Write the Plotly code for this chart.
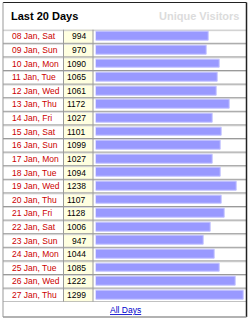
import plotly.graph_objects as go

dates = ["08 Jan, Sat", "09 Jan, Sun", "10 Jan, Mon", "11 Jan, Tue", "12 Jan, Wed",
         "13 Jan, Thu", "14 Jan, Fri", "15 Jan, Sat", "16 Jan, Sun", "17 Jan, Mon",
         "18 Jan, Tue", "19 Jan, Wed", "20 Jan, Thu", "21 Jan, Fri", "22 Jan, Sat",
         "23 Jan, Sun", "24 Jan, Mon", "25 Jan, Tue", "26 Jan, Wed", "27 Jan, Thu"]
visitors = [994, 970, 1090, 1065, 1061, 1172, 1027, 1101, 1099, 1027,
            1094, 1238, 1107, 1128, 1006, 947, 1044, 1085, 1222, 1299]
title_text = "Last 20 Days"
header_right = "Unique Visitors"
footer_link = "All Days"

W, H = 249, 320
px = lambda v: v / W
py = lambda v: 1 - v / H

row_top, row_bot = 29.7, 301.7
n = len(dates)
row_px = (row_bot - row_top) / n

fig = go.Figure()
fig.add_trace(go.Bar(
    y=dates, x=visitors, orientation="h", width=0.66,
    marker=dict(color="#9999ff", line=dict(color="#c4c4ff", width=1)),
    hoverinfo="x+y",
))

shapes = []
# number column background
shapes.append(dict(type="rect", xref="paper", yref="paper", x0=px(63.5), x1=px(93), y0=py(row_bot), y1=py(row_top),
                   fillcolor="#ffffe0", line=dict(width=0), layer="below"))
# row separators (two-tone)
for i in range(n + 1):
    yy = i - 0.5
    shapes.append(dict(type="line", xref="paper", yref="y", x0=px(3), x1=px(246), y0=yy + 1 / row_px, y1=yy + 1 / row_px,
                       line=dict(color="#dadada", width=1), layer="below"))
    shapes.append(dict(type="line", xref="paper", yref="y", x0=px(3), x1=px(246), y0=yy, y1=yy,
                       line=dict(color="#9a9a9a", width=1), layer="below"))
# vertical separators
for xv in (63.5, 93):
    shapes.append(dict(type="line", xref="paper", yref="paper", x0=px(xv), x1=px(xv), y0=py(row_bot), y1=py(row_top),
                       line=dict(color="#9a9a9a", width=1), layer="below"))
# outer border
shapes.append(dict(type="line", xref="paper", yref="paper", x0=px(3), x1=px(246.5), y0=py(2.5), y1=py(2.5),
                   line=dict(color="#222222", width=1)))
shapes.append(dict(type="line", xref="paper", yref="paper", x0=px(246.5), x1=px(246.5), y0=py(2.5), y1=py(317),
                   line=dict(color="#222222", width=1.5)))
shapes.append(dict(type="line", xref="paper", yref="paper", x0=px(3), x1=px(3), y0=py(2.5), y1=py(317),
                   line=dict(color="#999999", width=1)))
shapes.append(dict(type="line", xref="paper", yref="paper", x0=px(3), x1=px(246.5), y0=py(317), y1=py(317),
                   line=dict(color="#999999", width=1.5)))

annotations = []
annotations.append(dict(text="<b>" + title_text + "</b>", xref="paper", yref="paper", x=px(9), y=py(16),
                        xanchor="left", yanchor="middle", showarrow=False,
                        font=dict(family="Liberation Sans, Arial", size=11, color="#000000")))
annotations.append(dict(text="<b>" + header_right + "</b>", xref="paper", yref="paper", x=px(241), y=py(16),
                        xanchor="right", yanchor="middle", showarrow=False,
                        font=dict(family="Liberation Sans, Arial", size=11, color="#dcdcdc")))
for d, v in zip(dates, visitors):
    annotations.append(dict(text=d, xref="paper", yref="y", x=px(9.5), y=d, xanchor="left", yanchor="middle",
                            showarrow=False, font=dict(family="Liberation Sans, Arial", size=8.5, color="#cc0000")))
    annotations.append(dict(text=str(v), xref="paper", yref="y", x=px(88), y=d, xanchor="right", yanchor="middle",
                            showarrow=False, font=dict(family="Liberation Sans Narrow, Arial Narrow, Liberation Sans", size=8.5, color="#000000")))
annotations.append(dict(text="<u>" + footer_link + "</u>", xref="paper", yref="paper", x=px(125), y=py(310),
                        xanchor="center", yanchor="middle", showarrow=False,
                        font=dict(family="Liberation Sans, Arial", size=8.5, color="#0000cc")))

fig.update_layout(
    width=W, height=H, margin=dict(l=0, r=0, t=0, b=0),
    paper_bgcolor="white", plot_bgcolor="rgba(0,0,0,0)",
    showlegend=False, bargap=0,
    xaxis=dict(domain=[px(95.7), px(244)], range=[0, max(visitors)], visible=False, fixedrange=True),
    yaxis=dict(domain=[py(row_bot), py(row_top)], type="category", categoryorder="array", categoryarray=dates,
               range=[n - 0.5, -0.5], visible=False, fixedrange=True),
    shapes=shapes, annotations=annotations,
)

fig.write_html("out.html", config={"displayModeBar": False})
